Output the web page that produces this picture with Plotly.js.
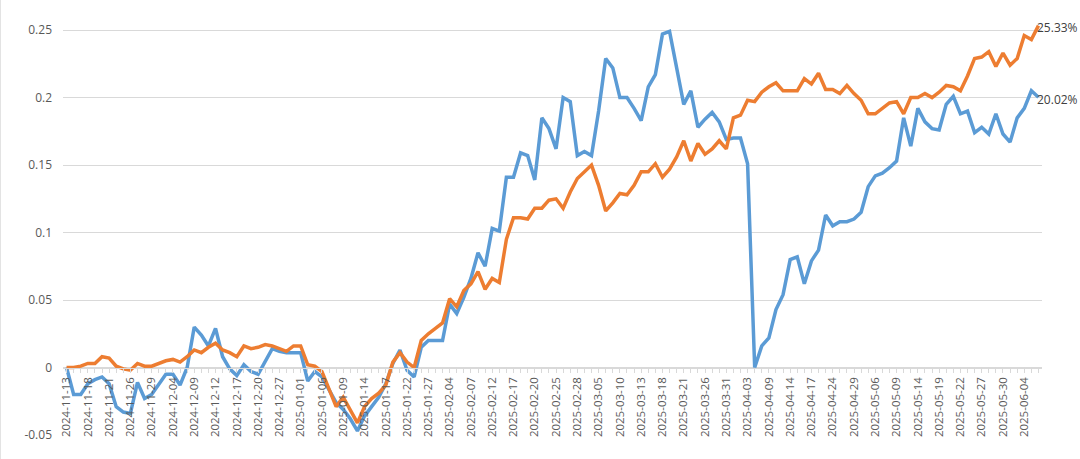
<!DOCTYPE html>
<html>
<head>
<meta charset="utf-8">
<script src="https://cdn.plot.ly/plotly-3.0.1.min.js"></script>
<style>
  html, body { margin: 0; padding: 0; background: #fff; }
  #chart { width: 1080px; height: 459px; box-sizing: border-box; border-left: 1px solid #e3e3e3; border-right: 1px solid #e3e3e3; }
</style>
</head>
<body>
<div id="chart"></div>
<script>
// trading days (HK calendar)
var dates = [
  '2024-11-13','2024-11-14','2024-11-15','2024-11-18','2024-11-19','2024-11-20','2024-11-21','2024-11-22','2024-11-25','2024-11-26','2024-11-27','2024-11-28','2024-11-29',
  '2024-12-02','2024-12-03','2024-12-04','2024-12-05','2024-12-06','2024-12-09','2024-12-10','2024-12-11','2024-12-12','2024-12-13','2024-12-16','2024-12-17','2024-12-18','2024-12-19','2024-12-20','2024-12-23','2024-12-24','2024-12-27','2024-12-30','2024-12-31',
  '2025-01-01','2025-01-02','2025-01-03','2025-01-06','2025-01-07','2025-01-08','2025-01-09','2025-01-10','2025-01-13','2025-01-14','2025-01-15','2025-01-16','2025-01-17','2025-01-20','2025-01-21','2025-01-22','2025-01-23','2025-01-24','2025-01-27','2025-01-28',
  '2025-02-03','2025-02-04','2025-02-05','2025-02-06','2025-02-07','2025-02-10','2025-02-11','2025-02-12','2025-02-13','2025-02-14','2025-02-17','2025-02-18','2025-02-19','2025-02-20','2025-02-21','2025-02-24','2025-02-25','2025-02-26','2025-02-27','2025-02-28',
  '2025-03-03','2025-03-04','2025-03-05','2025-03-06','2025-03-07','2025-03-10','2025-03-11','2025-03-12','2025-03-13','2025-03-14','2025-03-17','2025-03-18','2025-03-19','2025-03-20','2025-03-21','2025-03-24','2025-03-25','2025-03-26','2025-03-27','2025-03-28','2025-03-31',
  '2025-04-01','2025-04-02','2025-04-03','2025-04-07','2025-04-08','2025-04-09','2025-04-10','2025-04-11','2025-04-14','2025-04-15','2025-04-16','2025-04-17','2025-04-22','2025-04-23','2025-04-24','2025-04-25','2025-04-28','2025-04-29','2025-04-30',
  '2025-05-02','2025-05-06','2025-05-07','2025-05-08','2025-05-09','2025-05-12','2025-05-13','2025-05-14','2025-05-15','2025-05-16','2025-05-19','2025-05-20','2025-05-21','2025-05-22','2025-05-23','2025-05-26','2025-05-27','2025-05-28','2025-05-29','2025-05-30',
  '2025-06-02','2025-06-03','2025-06-04','2025-06-05','2025-06-06'
];

var blueValues = [
  0, -0.02, -0.02, -0.012, -0.009, -0.007, -0.012, -0.029, -0.033, -0.034,
  -0.011, -0.023, -0.02, -0.013, -0.005, -0.005, -0.013, 0.0, 0.03, 0.024,
  0.016, 0.029, 0.008, -0.001, -0.006, 0.002, -0.003, -0.005, 0.005, 0.014,
  0.012, 0.011, 0.011, 0.011, -0.01, -0.003, -0.007, -0.017, -0.026, -0.031,
  -0.038, -0.047, -0.036, -0.029, -0.022, -0.012, 0.003, 0.013, -0.002, -0.007,
  0.015, 0.02, 0.02, 0.02, 0.047, 0.04, 0.052, 0.066, 0.085, 0.075,
  0.103, 0.101, 0.141, 0.141, 0.159, 0.157, 0.139, 0.185, 0.177, 0.162,
  0.2, 0.197, 0.157, 0.16, 0.157, 0.19, 0.229, 0.222, 0.2, 0.2,
  0.192, 0.183, 0.208, 0.217, 0.247, 0.249, 0.222, 0.195, 0.205, 0.178,
  0.184, 0.189, 0.182, 0.169, 0.17, 0.17, 0.151, 0.0, 0.016, 0.022,
  0.043, 0.054, 0.08, 0.082, 0.062, 0.079, 0.087, 0.113, 0.105, 0.108,
  0.108, 0.11, 0.115, 0.134, 0.142, 0.144, 0.148, 0.153, 0.185, 0.164,
  0.192, 0.182, 0.177, 0.176, 0.195, 0.201, 0.188, 0.19, 0.174, 0.178,
  0.173, 0.188, 0.173, 0.167, 0.185, 0.192, 0.205, 0.2002
];

var orangeValues = [
  0, 0.0, 0.001, 0.003, 0.003, 0.008, 0.007, 0.001, -0.001, -0.002,
  0.003, 0.001, 0.001, 0.003, 0.005, 0.006, 0.004, 0.008, 0.013, 0.011,
  0.015, 0.018, 0.013, 0.011, 0.008, 0.016, 0.014, 0.015, 0.017, 0.016,
  0.014, 0.012, 0.016, 0.016, 0.002, 0.001, -0.003, -0.016, -0.029, -0.022,
  -0.032, -0.041, -0.029, -0.023, -0.019, -0.013, 0.004, 0.011, 0.004, 0.0,
  0.02, 0.025, 0.029, 0.033, 0.051, 0.045, 0.057, 0.062, 0.071, 0.058,
  0.066, 0.063, 0.095, 0.111, 0.111, 0.11, 0.118, 0.118, 0.124, 0.125,
  0.118, 0.13, 0.14, 0.145, 0.15, 0.135, 0.116, 0.122, 0.129, 0.128,
  0.135, 0.145, 0.145, 0.151, 0.141, 0.147, 0.156, 0.168, 0.153, 0.166,
  0.158, 0.162, 0.168, 0.162, 0.185, 0.187, 0.198, 0.197, 0.204, 0.208,
  0.211, 0.205, 0.205, 0.205, 0.214, 0.21, 0.218, 0.206, 0.206, 0.203,
  0.209, 0.203, 0.198, 0.188, 0.188, 0.192, 0.196, 0.197, 0.188, 0.2,
  0.2, 0.203, 0.2, 0.204, 0.209, 0.208, 0.205, 0.216, 0.229, 0.23,
  0.234, 0.223, 0.233, 0.224, 0.229, 0.246, 0.243, 0.2533
];

// a little headroom above 0.25 so the last orange point is not clipped
var yRange = [-0.05, 0.256];
var yTicks = [-0.05, 0, 0.05, 0.1, 0.15, 0.2, 0.25];
var yTickText = ['-0.05', '0', '0.05', '0.1', '0.15', '0.2', '0.25'];

var BLUE = '#5B9BD5';
var ORANGE = '#ED7D31';

// every category gets a tick mark, every third one a label
var tickText = dates.map(function(d, i) { return i % 3 === 0 ? d : ''; });

var traces = [
  { x: dates, y: blueValues, type: 'scatter', mode: 'lines', name: 'blue',
    line: { color: BLUE, width: 3.5 }, hoverinfo: 'x+y' },
  { x: dates, y: orangeValues, type: 'scatter', mode: 'lines', name: 'orange',
    line: { color: ORANGE, width: 3.5 }, hoverinfo: 'x+y' }
];

var last = dates.length - 1;
function pct(v) { return (v * 100).toFixed(2) + '%'; }
function paperY(v) { return (v - yRange[0]) / (yRange[1] - yRange[0]); }

var layout = {
  width: 1080,
  height: 459,
  margin: { l: 62, r: 39, t: 22, b: 24 },
  paper_bgcolor: '#fff',
  plot_bgcolor: '#fff',
  showlegend: false,
  font: { family: '"Open Sans", sans-serif', size: 12, color: '#595959' },
  xaxis: {
    type: 'category',
    range: [-0.5, dates.length - 0.5],
    anchor: 'free',
    position: paperY(0),
    showline: true,
    linecolor: '#d9d9d9',
    linewidth: 1,
    showgrid: false,
    zeroline: false,
    tickmode: 'array',
    tickvals: dates,
    ticktext: tickText,
    tickangle: -90,
    ticks: 'outside',
    ticklen: 4,
    tickcolor: '#d9d9d9',
    tickfont: { size: 11.5, color: '#595959' }
  },
  yaxis: {
    range: yRange,
    tickmode: 'array',
    tickvals: yTicks,
    ticktext: yTickText,
    showgrid: true,
    gridcolor: '#d9d9d9',
    gridwidth: 1,
    zeroline: false,
    showline: false,
    ticklabelstandoff: 10,
    tickfont: { size: 12, color: '#595959' }
  },
  annotations: [
    { x: dates[last], y: paperY(orangeValues[last]), yref: 'paper', text: pct(orangeValues[last]),
      xanchor: 'left', yanchor: 'middle', showarrow: false, xshift: -3, yshift: -2,
      font: { size: 12, color: '#404040' } },
    { x: dates[last], y: paperY(blueValues[last]), yref: 'paper', text: pct(blueValues[last]),
      xanchor: 'left', yanchor: 'middle', showarrow: false, xshift: -3, yshift: -2,
      font: { size: 12, color: '#404040' } }
  ]
};

Plotly.newPlot('chart', traces, layout, { displayModeBar: false, staticPlot: true });
</script>
</body>
</html>
